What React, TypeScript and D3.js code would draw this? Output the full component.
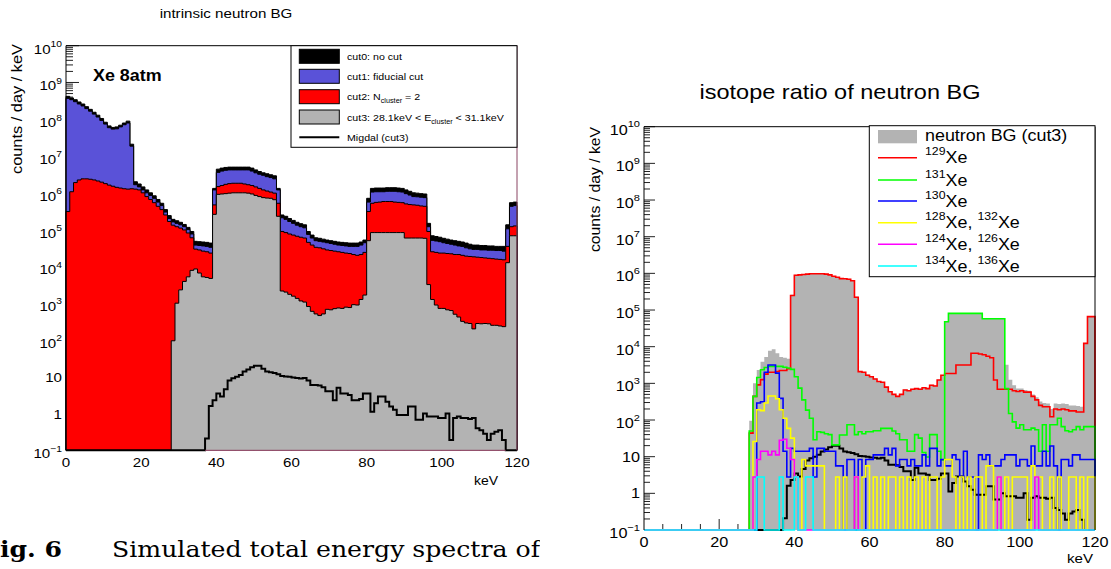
import * as d3 from "d3";
import React from "react";

// counts / day / keV in 1 keV bins (bin i = [i, i+1) keV)

// left panel: intrinsic neutron BG
const cut0 = [
  4.2e8, 3.8e8, 3.4e8, 2.95e8, 2.6e8, 2.2e8, 1.86e8, 1.55e8, 1.29e8, 1.05e8,
  8.3e7, 6.6e7, 6.0e7, 6.2e7, 6.9e7, 7.9e7, 8.9e7, 2.1e7, 2.0e6, 1.74e6,
  1.45e6, 1.2e6, 1.0e6, 8.3e5, 6.6e5, 5.2e5, 3.5e5, 2.4e5, 1.9e5, 1.74e5,
  1.58e5, 1.38e5, 1.15e5, 8.9e4, 4.8e4, 4.7e4, 4.6e4, 4.5e4, 4.3e4, 1.32e6,
  4.4e6, 4.7e6, 4.9e6, 5.0e6, 5.0e6, 5.0e6, 5.0e6, 5.0e6, 5.0e6, 4.7e6,
  4.2e6, 3.8e6, 3.5e6, 3.3e6, 3.1e6, 2.9e6, 1.32e6, 2.5e5, 2.3e5, 2.0e5,
  1.78e5, 1.58e5, 1.45e5, 1.35e5, 8.9e4, 7.1e4, 6.0e4, 5.8e4, 5.5e4, 5.2e4,
  5.0e4, 4.8e4, 4.6e4, 4.5e4, 4.4e4, 4.3e4, 4.3e4, 4.3e4, 4.6e4, 5.2e4,
  7.1e5, 1.32e6, 1.35e6, 1.35e6, 1.35e6, 1.38e6, 1.38e6, 1.38e6, 1.35e6, 1.32e6,
  1.2e6, 1.1e6, 1.0e6, 9.8e5, 9.5e5, 9.3e5, 1.48e5, 6.8e4, 6.5e4, 6.2e4,
  5.8e4, 5.5e4, 5.2e4, 5.0e4, 4.8e4, 4.6e4, 4.3e4, 4.0e4, 3.8e4, 3.8e4,
  3.7e4, 3.7e4, 3.6e4, 3.6e4, 3.5e4, 3.5e4, 3.5e4, 1.35e5, 5.4e5, 5.6e5,
];
const cut1 = [
  3.7e8, 3.4e8, 3.0e8, 2.6e8, 2.3e8, 1.95e8, 1.66e8, 1.38e8, 1.15e8, 9.3e7,
  7.4e7, 5.9e7, 5.4e7, 5.5e7, 6.2e7, 7.1e7, 7.9e7, 1.86e7, 1.66e6, 1.45e6,
  1.2e6, 1.0e6, 8.5e5, 7.1e5, 5.6e5, 4.5e5, 3.0e5, 2.0e5, 1.62e5, 1.48e5,
  1.35e5, 1.2e5, 1.0e5, 7.6e4, 3.8e4, 3.7e4, 3.6e4, 3.5e4, 3.3e4, 1.2e6,
  3.6e6, 3.9e6, 4.1e6, 4.2e6, 4.2e6, 4.2e6, 4.2e6, 4.2e6, 4.2e6, 3.9e6,
  3.5e6, 3.2e6, 3.0e6, 2.75e6, 2.6e6, 2.4e6, 1.2e6, 2.1e5, 1.9e5, 1.66e5,
  1.48e5, 1.32e5, 1.2e5, 1.12e5, 7.4e4, 5.9e4, 5.0e4, 4.8e4, 4.6e4, 4.4e4,
  4.2e4, 4.0e4, 3.8e4, 3.7e4, 3.6e4, 3.5e4, 3.5e4, 3.5e4, 3.8e4, 4.4e4,
  5.6e5, 1.05e6, 1.07e6, 1.07e6, 1.07e6, 1.1e6, 1.1e6, 1.1e6, 1.07e6, 1.05e6,
  9.5e5, 8.7e5, 7.9e5, 7.8e5, 7.6e5, 7.4e5, 1.2e5, 5.1e4, 4.9e4, 4.7e4,
  4.4e4, 4.2e4, 4.0e4, 3.8e4, 3.6e4, 3.5e4, 3.2e4, 3.0e4, 2.9e4, 2.9e4,
  2.8e4, 2.8e4, 2.75e4, 2.75e4, 2.7e4, 2.7e4, 2.6e4, 1.05e5, 4.3e5, 4.5e5,
];
const cut2 = [
  3.1e5, 1.07e6, 1.9e6, 2.24e6, 2.4e6, 2.4e6, 2.34e6, 2.24e6, 2.1e6, 1.95e6,
  1.78e6, 1.62e6, 1.51e6, 1.41e6, 1.35e6, 1.29e6, 1.26e6, 1.29e6, 1.26e6, 1.2e6,
  1.0e6, 7.9e5, 6.6e5, 5.4e5, 4.3e5, 3.5e5, 2.5e5, 1.66e5, 1.32e5, 1.2e5,
  1.1e5, 9.8e4, 8.1e4, 6.0e4, 2.95e4, 2.8e4, 2.6e4, 2.5e4, 2.3e4, 4.7e5,
  1.48e6, 1.58e6, 1.7e6, 1.78e6, 1.82e6, 1.82e6, 1.82e6, 1.74e6, 1.66e6, 1.58e6,
  1.45e6, 1.32e6, 1.2e6, 1.12e6, 1.05e6, 9.8e5, 5.2e5, 8.9e4, 8.3e4, 7.6e4,
  7.1e4, 6.6e4, 6.2e4, 5.9e4, 4.5e4, 3.8e4, 3.3e4, 3.2e4, 3.0e4, 2.8e4,
  2.7e4, 2.6e4, 2.5e4, 2.4e4, 2.3e4, 2.24e4, 2.1e4, 2.0e4, 2.1e4, 2.4e4,
  3.1e5, 5.2e5, 5.5e5, 5.6e5, 5.8e5, 5.8e5, 5.8e5, 5.6e5, 5.5e5, 5.4e5,
  5.0e5, 4.8e5, 4.7e5, 4.6e5, 4.4e5, 4.3e5, 8.9e4, 2.5e4, 2.4e4, 2.3e4,
  2.3e4, 2.24e4, 2.2e4, 2.1e4, 2.1e4, 2.0e4, 1.9e4, 1.86e4, 1.82e4, 1.78e4,
  1.74e4, 1.7e4, 1.66e4, 1.62e4, 1.58e4, 1.55e4, 1.51e4, 3.5e4, 1.2e5, 1.26e5,
];
const cut3 = [
  0, 0, 0, 0, 0, 0, 0, 0, 0, 0,
  0, 0, 0, 0, 0, 0, 0, 0, 0, 0,
  0, 0, 0, 0, 0, 0, 0, 0, 95, 1000,
  2300, 3900, 5200, 7800, 8500, 6600, 5200, 5000, 4700, 2.6e5,
  9.1e5, 9.3e5, 9.5e5, 9.8e5, 1.0e6, 1.0e6, 1.0e6, 1.0e6, 9.8e5, 9.3e5,
  8.5e5, 7.9e5, 7.4e5, 7.2e5, 7.1e5, 6.5e5, 2.3e5, 2140, 2000, 1740,
  1550, 1350, 1150, 1070, 810, 600, 510, 460, 510, 680,
  660, 710, 740, 720, 780, 760, 910, 890, 1260, 1660,
  5.0e4, 8.3e4, 8.3e4, 8.3e4, 8.3e4, 8.3e4, 8.3e4, 8.3e4, 8.3e4, 8.3e4,
  5.9e4, 5.9e4, 5.9e4, 5.9e4, 5.9e4, 5.8e4, 3200, 1260, 890, 720,
  720, 660, 630, 500, 420, 320, 290, 280, 200, 280,
  275, 280, 275, 250, 250, 240, 230, 1.26e4, 6.8e4, 6.8e4,
];
const migdal = [
  0, 0, 0, 0, 0, 0, 0, 0, 0, 0,
  0, 0, 0, 0, 0, 0, 0, 0, 0, 0,
  0, 0, 0, 0, 0, 0, 0, 0, 0, 0,
  0, 0, 0, 0, 0, 0, 0, 0.21, 1.6, 2.3,
  3.5, 2.9, 4.6, 7.9, 9.1, 10, 11.2, 13.8, 15.8, 18.2,
  20, 20, 16.6, 13.8, 13.2, 12.6, 11.7, 10.5, 10.2, 10,
  9.5, 9.3, 8.9, 9.3, 7.9, 6.0, 6.0, 5.8, 5.2, 4.0,
  4.0, 2.3, 5.0, 3.5, 3.5, 3.2, 2.3, 2.3, 2.5, 3.5,
  3.5, 1.12, 1.9, 2.9, 2.9, 2.1, 1.55, 1.26, 0.91, 0.91,
  0.91, 1.55, 1.55, 0.68, 0.68, 1.0, 0.83, 0.83, 0.83, 0.76,
  0.76, 1.0, 0.19, 0.76, 0.83, 0.76, 0.76, 0.71, 0.76, 0.4,
  0.35, 0.28, 0.19, 0.28, 0.32, 0.35, 0.19, 0, 0, 0,
];

// right panel: isotope ratio of neutron BG
const xe129 = [
  0, 0, 0, 0, 0, 0, 0, 0, 0, 0,
  0, 0, 0, 0, 0, 0, 0, 0, 0, 0,
  0, 0, 0, 0, 0, 0, 0, 0, 44, 440,
  910, 1260, 1780, 2000, 2000, 2100, 2240, 2240, 2500, 2.5e5,
  8.9e5, 9.1e5, 9.3e5, 9.5e5, 9.8e5, 9.8e5, 9.8e5, 9.8e5, 9.5e5, 9.1e5,
  8.3e5, 7.8e5, 7.2e5, 7.1e5, 6.9e5, 6.3e5, 2.24e5, 2090, 2000, 1660,
  1510, 1320, 1120, 1070, 790, 590, 500, 440, 500, 660,
  630, 690, 720, 690, 760, 720, 890, 850, 1230, 1660,
  1860, 1860, 1860, 3160, 3160, 3160, 3160, 6600, 6600, 6300,
  6000, 5500, 5000, 1230, 690, 690, 690, 690, 630, 600,
  630, 575, 575, 440, 355, 250, 230, 230, 123, 200,
  190, 200, 190, 178, 178, 166, 166, 1.23e4, 6.6e4, 6.6e4,
];
const xe131 = [
  0, 0, 0, 0, 0, 0, 0, 0, 0, 0,
  0, 0, 0, 0, 0, 0, 0, 0, 0, 0,
  0, 0, 0, 0, 0, 0, 0, 0, 50, 440,
  1450, 2340, 2700, 2900, 2900, 2900, 2900, 2750, 2630, 2400,
  1510, 740, 355, 186, 112, 29, 48, 46, 42, 40,
  21, 21, 39, 39, 74, 74, 40, 48, 42, 48,
  48, 51, 51, 59, 59, 59, 50, 42, 29, 29,
  14, 14, 40, 32, 13, 9.8, 40, 40, 14, 8.1,
  4.8e4, 8.1e4, 8.1e4, 8.1e4, 8.1e4, 8.1e4, 8.1e4, 8.1e4, 8.1e4, 8.1e4,
  5.8e4, 5.8e4, 5.8e4, 5.8e4, 5.8e4, 5.8e4, 720, 151, 89, 60,
  74, 54, 54, 60, 54, 14, 74, 14, 74, 74,
  112, 66, 51, 48, 54, 66, 54, 66, 66, 66,
];
const xe130 = [
  0, 0, 0, 0, 0, 0, 0, 0, 0, 0,
  0, 0, 0, 0, 0, 0, 0, 0, 0, 0,
  0, 0, 0, 0, 0, 0, 0, 0, 0, 0,
  290, 316, 2000, 3160, 3160, 1900, 390, 14, 2.8, 16.8,
  14, 14, 14, 14, 16.8, 2.8, 16.8, 16.8, 14, 14,
  14, 5.6, 5.6, 0, 8.4, 8.4, 0, 8.4, 0, 8.4,
  8.4, 11.2, 11.2, 11.2, 16.8, 11.2, 16.8, 5.6, 8.4, 8.4,
  5.6, 8.4, 5.6, 5.6, 11.2, 5.6, 16.8, 16.8, 5.6, 8.4,
  5.6, 5.6, 11.2, 8.4, 2.8, 14, 2.8, 2.8, 0, 11.2,
  8.4, 11.2, 5.6, 5.6, 5.6, 8.4, 11.2, 11.2, 11.2, 5.6,
  8.4, 8.4, 5.6, 19.6, 5.6, 5.6, 14, 5.6, 19.6, 5.6,
  0, 8.4, 8.4, 5.6, 11.2, 11.2, 8.4, 8.4, 8.4, 8.4,
];
const xe128132 = [
  0, 0, 0, 0, 0, 0, 0, 0, 0, 0,
  0, 0, 0, 0, 0, 0, 0, 0, 0, 0,
  0, 0, 0, 0, 0, 0, 0, 0, 0, 26,
  190, 180, 290, 450, 450, 380, 190, 112, 59, 32,
  2.8, 0, 8.4, 5.6, 5.6, 5.6, 5.6, 5.6, 0, 0,
  0, 2.8, 0, 2.8, 0, 0, 2.8, 0, 2.8, 5.6,
  0, 2.8, 0, 2.8, 0, 2.8, 2.8, 0, 2.8, 0,
  2.8, 0, 2.8, 0, 2.8, 0, 2.8, 2.8, 0, 2.8,
  8.4, 8.4, 2.8, 0, 2.8, 0, 2.8, 0, 2.8, 2.8,
  0, 5.6, 5.6, 0, 2.8, 0, 2.8, 0, 2.8, 2.8,
  2.8, 2.8, 0, 5.6, 2.8, 2.8, 0, 0, 2.8, 0,
  2.8, 0, 0, 2.8, 2.8, 0, 2.8, 0, 2.8, 2.8,
];
const xe124126 = [
  0, 0, 0, 0, 0, 0, 0, 0, 0, 0,
  0, 0, 0, 0, 0, 0, 0, 0, 0, 0,
  0, 0, 0, 0, 0, 0, 0, 0, 0, 2.8,
  8.4, 14, 14, 11.2, 14, 11.2, 28, 30, 17, 8.4,
  2.8, 0, 0, 0, 0, 0, 0, 0, 0, 0,
  0, 0, 0, 0, 0, 0, 2.8, 0, 0, 0,
  0, 0, 0, 0, 0, 0, 0, 0, 0, 0,
  0, 0, 0, 0, 0, 0, 0, 0, 0, 0,
  0, 0, 0, 0, 0, 0, 0, 0, 0, 0,
  0, 0, 0, 0, 2.8, 0, 0, 0, 0, 0,
  0, 0, 0, 0, 2.8, 0, 0, 0, 0, 0,
  0, 0, 0, 0, 0, 0, 0, 0, 0, 0,
];
const xe134136 = [
  0, 0, 0, 0, 0, 0, 0, 0, 0, 0,
  0, 0, 0, 0, 0, 0, 0, 0, 0, 0,
  0, 0, 0, 0, 0, 0, 0, 0, 0, 0,
  2.8, 2.8, 0, 0, 0, 0, 2.8, 0, 0, 0,
  2.8, 0, 0, 2.8, 2.8, 0, 0, 0, 0, 0,
  0, 0, 0, 0, 0, 0, 0, 0, 0, 0,
  0, 0, 0, 0, 0, 0, 0, 0, 0, 0,
  0, 0, 0, 0, 0, 0, 0, 0, 0, 0,
  0, 0, 0, 0, 0, 0, 0, 0, 0, 0,
  0, 0, 0, 0, 0, 0, 0, 0, 0, 0,
  0, 0, 0, 0, 0, 0, 0, 0, 0, 0,
  0, 0, 0, 0, 0, 0, 0, 0, 0, 0,
];

const xTicks = [0, 20, 40, 60, 80, 100, 120];
const decades = [-1, 0, 1, 2, 3, 4, 5, 6, 7, 8, 9, 10];

const FONT = "'Liberation Sans', Arial, Helvetica, sans-serif";
const SX = 1.12; // glyphs in the reference are a bit wider than Arial
const YMIN = 0.1;
const YMAX = 1e10;

type Panel = { x0: number; x1: number; y0: number; y1: number };
const LEFT: Panel = { x0: 66, x1: 517, y0: 45.7, y1: 450.3 };
const RIGHT: Panel = { x0: 644, x1: 1095, y0: 126.7, y1: 530 };

const makeScales = (p: Panel) => {
  const x = d3.scaleLinear().domain([0, 120]).range([p.x0, p.x1]);
  const yl = d3.scaleLog().domain([YMIN, YMAX]).range([p.y1, p.y0]);
  const y = (v: number) => (v > YMIN ? yl(v) : p.y1);
  return { x, yl, y };
};

// histogram -> step polyline, starting and ending on the floor
const steps = (vals: number[]) => {
  const pts: [number, number][] = [[0, 0]];
  vals.forEach((v, i) => pts.push([i, v], [i + 1, v]));
  pts.push([vals.length, 0]);
  return pts;
};

const Txt = (props: any) => {
  const { x, y, size, anchor = "start", weight = "normal", children } = props;
  return (
    <text
      transform={`translate(${x},${y}) scale(${SX},1)`}
      fontSize={size}
      textAnchor={anchor}
      fontWeight={weight}
      fontFamily={FONT}
      fill="#000"
    >
      {children}
    </text>
  );
};

const Axes = ({ p, s, size, major, minor, labY }: any) => {
  const out: any[] = [];
  decades.forEach((e) => {
    const yy = s.yl(10 ** e);
    out.push(<line key={"M" + e} x1={p.x0} x2={p.x0 + major} y1={yy} y2={yy} />);
    if (e < 10) {
      for (let m = 2; m <= 9; m++) {
        const ym = s.yl(m * 10 ** e);
        out.push(<line key={"m" + e + m} x1={p.x0} x2={p.x0 + minor} y1={ym} y2={ym} />);
      }
    }
  });
  for (let k = 5; k < 120; k += 5) {
    const len = k % 20 === 0 ? major : minor;
    out.push(<line key={"x" + k} x1={s.x(k)} x2={s.x(k)} y1={p.y1} y2={p.y1 - len} />);
  }
  const labels = decades.map((e) => {
    const yy = s.yl(10 ** e);
    if (e === 0 || e === 1)
      return (
        <Txt key={"l" + e} x={p.x0 - 4} y={yy + 5} size={size} anchor="end">
          {e === 0 ? "1" : "10"}
        </Txt>
      );
    return (
      <Txt key={"l" + e} x={p.x0 - 4} y={yy + 8} size={size} anchor="end">
        10
        <tspan fontSize={size * 0.68} dy={-size * 0.5}>
          {e < 0 ? "\u2212" + -e : String(e)}
        </tspan>
      </Txt>
    );
  });
  return (
    <g>
      <g stroke="#222" strokeWidth={1}>{out}</g>
      {labels}
      {xTicks.map((t) => (
        <Txt key={"t" + t} x={s.x(t)} y={labY} size={size} anchor="middle">
          {t}
        </Txt>
      ))}
    </g>
  );
};

const LeftPanel = () => {
  const p = LEFT;
  const s = makeScales(p);
  const line = d3.line<[number, number]>().x((d) => s.x(d[0])).y((d) => s.y(d[1]));
  const area = d3.area<[number, number]>().x((d) => s.x(d[0])).y0(p.y1).y1((d) => s.y(d[1]));
  const fills = [
    { v: cut0, c: "#000000" },
    { v: cut1, c: "#5a52d8" },
    { v: cut2, c: "#ff0000" },
    { v: cut3, c: "#b3b3b3" },
  ];
  const legendRows = [56.3, 76.3, 96.7, 117, 137.3];
  return (
    <g>
      <Axes p={p} s={s} size={13.5} major={13} minor={7} labY={467} />
      {fills.map((f, i) => (
        <g key={i}>
          <path d={area(steps(f.v)) || ""} fill={f.c} />
          <path d={line(steps(f.v)) || ""} fill="none" stroke="#000" strokeWidth={1} />
        </g>
      ))}
      <path d={line(steps(migdal)) || ""} fill="none" stroke="#000" strokeWidth={2} />
      {/* frame */}
      <line x1={p.x0} x2={p.x1} y1={p.y0} y2={p.y0} stroke="#000" />
      <line x1={p.x0} x2={p.x0} y1={p.y0} y2={p.y1} stroke="#000" />
      <line x1={p.x1} x2={p.x1} y1={p.y0} y2={p.y1} stroke="#8a4462" />
      <line x1={s.x(37)} x2={s.x(117)} y1={p.y1} y2={p.y1} stroke="#8a4462" />
      {/* legend */}
      <rect x={291} y={45.7} width={226} height={101.6} fill="#fff" stroke="#000" strokeWidth={1} />
      {fills.map((f, i) => (
        <rect key={"lg" + i} x={299.3} y={legendRows[i] - 7} width={40} height={14} fill={f.c} stroke="#000" />
      ))}
      <line x1={299.3} x2={339.3} y1={legendRows[4]} y2={legendRows[4]} stroke="#000" strokeWidth={2} />
      <Txt x={347} y={legendRows[0] + 3.5} size={9.5}>cut0: no cut</Txt>
      <Txt x={347} y={legendRows[1] + 3.5} size={9.5}>cut1: fiducial cut</Txt>
      <Txt x={347} y={legendRows[2] + 3.5} size={9.5}>
        cut2: N<tspan fontSize={6.5} dy={3}>cluster</tspan>
        <tspan dy={-3}> = 2</tspan>
      </Txt>
      <Txt x={347} y={legendRows[3] + 3.5} size={9.5}>
        cut3: 28.1keV &lt; E<tspan fontSize={6.5} dy={3}>cluster</tspan>
        <tspan dy={-3}> &lt; 31.1keV</tspan>
      </Txt>
      <Txt x={347} y={legendRows[4] + 3.5} size={9.5}>Migdal (cut3)</Txt>
      <Txt x={93} y={80.7} size={16} weight="bold">Xe 8atm</Txt>
      <Txt x={226} y={18} size={13.5} anchor="middle">intrinsic neutron BG</Txt>
      <Txt x={498} y={485} size={12.5} anchor="end">keV</Txt>
      <text
        transform="translate(21.5,44) rotate(-90)"
        fontFamily={FONT}
        fontSize={14}
        textAnchor="end"
        textLength={130}
        lengthAdjust="spacingAndGlyphs"
      >
        counts / day / keV
      </text>
    </g>
  );
};

const RightPanel = () => {
  const p = RIGHT;
  const s = makeScales(p);
  const line = d3.line<[number, number]>().x((d) => s.x(d[0])).y((d) => s.y(d[1]));
  const area = d3.area<[number, number]>().x((d) => s.x(d[0])).y0(p.y1).y1((d) => s.y(d[1]));
  const isotopes = [
    { v: xe129, c: "#ff0000", a: ["129"], b: [] as string[] },
    { v: xe131, c: "#00ff00", a: ["131"], b: [] },
    { v: xe130, c: "#0000ff", a: ["130"], b: [] },
    { v: xe128132, c: "#ffff00", a: ["128"], b: ["132"] },
    { v: xe124126, c: "#ff00ff", a: ["124"], b: ["126"] },
    { v: xe134136, c: "#00ffff", a: ["134"], b: ["136"] },
  ];
  const rows = [157.7, 180, 201, 222.7, 244.3, 266];
  return (
    <g>
      <Axes p={p} s={s} size={14.5} major={11} minor={6} labY={547} />
      <path d={area(steps(cut3)) || ""} fill="#b3b3b3" />
      <path d={line(steps(migdal)) || ""} fill="none" stroke="#000" strokeWidth={2} />
      {isotopes.map((h, i) => (
        <path key={i} d={line(steps(h.v)) || ""} fill="none" stroke={h.c} strokeWidth={1.6} />
      ))}
      <line x1={p.x0} x2={p.x1} y1={p.y0} y2={p.y0} stroke="#000" />
      <line x1={p.x0} x2={p.x0} y1={p.y0} y2={p.y1} stroke="#000" />
      <line x1={p.x1} x2={p.x1} y1={p.y0} y2={p.y1} stroke="#000" />
      {/* legend */}
      <rect x={869.3} y={125.7} width={225.7} height={151} fill="#fff" stroke="#000" strokeWidth={1} />
      <rect x={878} y={130} width={39} height={13.3} fill="#b3b3b3" />
      <Txt x={925} y={141} size={16}>neutron BG (cut3)</Txt>
      {isotopes.map((h, i) => (
        <g key={"lg" + i}>
          <line x1={878} x2={917} y1={rows[i]} y2={rows[i]} stroke={h.c} strokeWidth={1.6} />
          <Txt x={925} y={rows[i] + 5.6} size={16}>
            <tspan fontSize={11} dy={-8}>{h.a[0]}</tspan>
            <tspan dy={8}>Xe</tspan>
            {h.b.length > 0 && (
              <>
                <tspan>, </tspan>
                <tspan fontSize={11} dy={-8}>{h.b[0]}</tspan>
                <tspan dy={8}>Xe</tspan>
              </>
            )}
          </Txt>
        </g>
      ))}
      <Txt x={840} y={99} size={21} anchor="middle">isotope ratio of neutron BG</Txt>
      <Txt x={1093} y={563} size={13.5} anchor="end">keV</Txt>
      <text
        transform="translate(599.5,127) rotate(-90)"
        fontFamily={FONT}
        fontSize={14}
        textAnchor="end"
        textLength={125}
        lengthAdjust="spacingAndGlyphs"
      >
        counts / day / keV
      </text>
    </g>
  );
};

export default function App() {
  return (
    <svg
      width={1111}
      height={569}
      viewBox="0 0 1111 569"
      style={{ position: "absolute", left: 0, top: 0, background: "#fff" }}
    >
      <defs>
        <clipPath id="capclip">
          <rect x={0} y={500} width={540} height={69} />
        </clipPath>
      </defs>
      <rect x={0} y={0} width={1111} height={569} fill="#fff" />
      <LeftPanel />
      <RightPanel />
      <g clipPath="url(#capclip)" fontFamily="'DejaVu Serif', 'Liberation Serif', serif" fontSize={22}>
        <text x={0} y={557} fontWeight="bold" textLength={62} lengthAdjust="spacingAndGlyphs">
          ig. 6
        </text>
        <text x={112} y={557} textLength={428} lengthAdjust="spacingAndGlyphs">
          Simulated total energy spectra of
        </text>
      </g>
    </svg>
  );
}
